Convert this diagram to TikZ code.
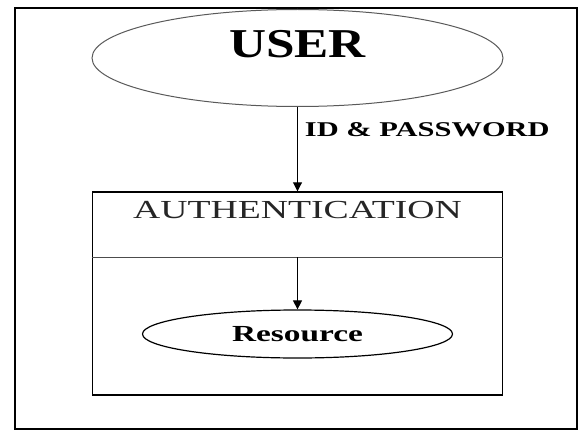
\documentclass[tikz,border=0pt]{standalone}
\usepackage{fontspec}
\setmainfont{Liberation Serif}
\newfontfamily\widefont[FakeStretch=1.45]{Liberation Serif}
\newfontfamily\userfont[FakeStretch=1.25]{Liberation Serif}
\usepackage{tikz}
\usetikzlibrary{shapes.geometric,positioning,arrows.meta}

\begin{document}
\begin{tikzpicture}[x=1pt,y=1pt,on grid,
	every edge/.style={draw,line width=0.9pt,-{Triangle[length=9pt,width=9pt]}},
	frame/.style={draw,line width=1.8pt},
	userell/.style={ellipse,draw=black!65,line width=1pt,minimum width=411pt,minimum height=97pt,
		inner sep=0pt,text height=20pt,text depth=20pt,font=\userfont\bfseries\fontsize{41}{41}\selectfont},
	authbox/.style={rectangle,draw,line width=1.4pt,minimum width=410pt,minimum height=203pt,inner sep=0pt},
	authtitle/.style={inner sep=0pt,text=black!85,font=\widefont\fontsize{26}{26}\selectfont},
	resell/.style={ellipse,draw,line width=1.2pt,minimum width=310pt,minimum height=48pt,
		inner sep=0pt,font=\widefont\bfseries\fontsize{23}{23}\selectfont},
	arrowlabel/.style={inner sep=0pt,font=\widefont\bfseries\fontsize{21}{21}\selectfont}]

	\useasboundingbox (0,0) rectangle (580,432);
	\draw[frame] (15,3) rectangle (577,424);

	\node[userell] (user) at (297.5,374) {USER};
	\node[authbox] (auth) [below=235.5pt of user] {};
	\node[authtitle] (title) at ([yshift=-19pt]auth.north) {AUTHENTICATION};
	\coordinate (divl) at ([yshift=-66pt]auth.north west);
	\coordinate (divr) at ([yshift=-66pt]auth.north east);
	\coordinate (divm) at ([yshift=-66pt]auth.north);
	\node[resell] (res) at ([yshift=-40.5pt]auth.center) {Resource};

	\draw[line width=0.9pt,black!70] (divl) -- (divr);

	\path (user) edge node[arrowlabel,pos=0.27,anchor=west,xshift=7pt] {ID \& PASSWORD} (auth)
		(divm) edge (res);

\end{tikzpicture}
\end{document}
